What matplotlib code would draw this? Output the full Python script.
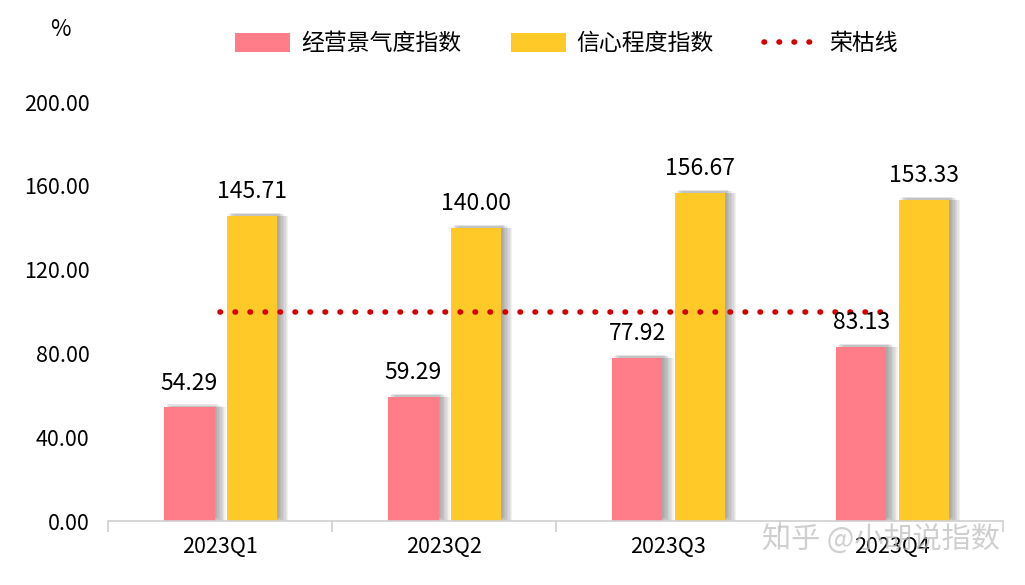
import matplotlib

matplotlib.use("Agg")

import matplotlib.pyplot as plt
import matplotlib.patheffects as pe
import numpy as np
from matplotlib.lines import Line2D
from matplotlib.patches import Patch

plt.rcParams["font.family"] = ["Noto Sans CJK SC", "DejaVu Sans"]

quarters = ["2023Q1", "2023Q2", "2023Q3", "2023Q4"]
business_index = [54.29, 59.29, 77.92, 83.13]
confidence_index = [145.71, 140.00, 156.67, 153.33]
boom_line = [100, 100, 100, 100]

PINK = "#FF7C89"
YELLOW = "#FFCA28"
RED = "#D40000"
DOTS = (0, (0.1, 2.6))

fig = plt.figure(figsize=(10.25, 5.85), dpi=100)
ax = fig.add_axes([0.105, 0.1094, 0.874, 0.7162])

x = np.arange(len(quarters))
width = 0.225
# soft, blurred-looking shadow built from a few faint offset copies
shadow = [pe.SimplePatchShadow(offset=(dx, dy), shadow_rgbFace="#555555", alpha=0.08)
          for dx, dy in ((1, 1), (2, 2), (3, 2), (4, 1), (5, 1), (6, 0), (7, 0), (8, 0))]
shadow.append(pe.Normal())

bars1 = ax.bar(x - 0.135, business_index, width, color=PINK, zorder=2)
bars2 = ax.bar(x + 0.145, confidence_index, width, color=YELLOW, zorder=2)
for bar in list(bars1) + list(bars2):
    bar.set_path_effects(shadow)

ax.plot(x, boom_line, color=RED, linestyle=DOTS, linewidth=4,
        dash_capstyle="round", zorder=3)

for bars, values in ((bars1, business_index), (bars2, confidence_index)):
    for bar, v in zip(bars, values):
        ax.annotate(f"{v:.2f}", (bar.get_x() + bar.get_width() / 2, v),
                    xytext=(0, 9), textcoords="offset points",
                    ha="center", va="bottom", fontsize=16.5, color="black")

ax.set_xlim(-0.5, 3.5)
ax.set_ylim(0, 200)
ax.set_yticks(np.arange(0, 201, 40))
ax.set_yticklabels([f"{t:.2f}" for t in np.arange(0, 201, 40)], fontsize=15.5)
ax.tick_params(axis="y", length=0, pad=13)
ax.set_xticks(x)
ax.set_xticklabels(quarters, fontsize=15.5)
ax.set_xticks(np.arange(-0.5, 3.6, 1), minor=True)
ax.tick_params(axis="x", which="major", length=0, pad=11)
ax.tick_params(axis="x", which="minor", length=8, color="#D0D0D0", width=1.2)

for side in ("top", "right", "left"):
    ax.spines[side].set_visible(False)
ax.spines["bottom"].set_color("#D0D0D0")
ax.spines["bottom"].set_linewidth(1.2)

fig.text(0.059, 0.95, "%", fontsize=16, ha="center", va="center")

handles = [
    Patch(facecolor=PINK, label="经营景气度指数"),
    Patch(facecolor=YELLOW, label="信心程度指数"),
    Line2D([0], [0], color=RED, linestyle=DOTS, linewidth=4,
           dash_capstyle="round", label="荣枯线"),
]
fig.legend(handles=handles, loc="center", bbox_to_anchor=(0.553, 0.925), ncol=3,
           frameon=False, fontsize=16.5, handlelength=2.4, handleheight=0.9,
           columnspacing=2.2, handletextpad=0.45)

fig.text(0.975, 0.075, "知乎 @小胡说指数", fontsize=21, ha="right", va="center",
         color="#BBBBBB", alpha=0.7)

fig.savefig("out.png", dpi=100)
